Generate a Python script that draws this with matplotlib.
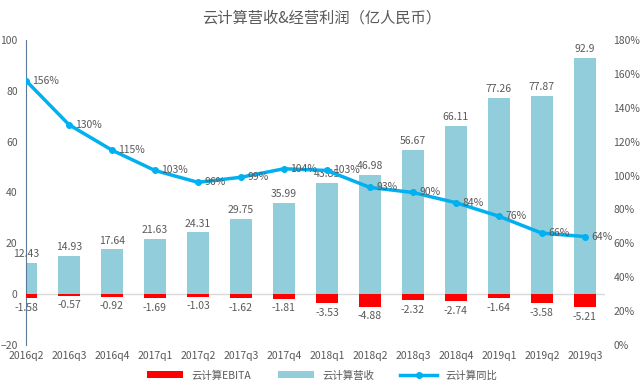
import matplotlib.pyplot as plt
import numpy as np

plt.rcParams['font.family'] = ['Noto Sans CJK SC', 'DejaVu Sans']

quarters = ["2016q2", "2016q3", "2016q4", "2017q1", "2017q2", "2017q3", "2017q4",
            "2018q1", "2018q2", "2018q3", "2018q4", "2019q1", "2019q2", "2019q3"]
revenue = [12.43, 14.93, 17.64, 21.63, 24.31, 29.75, 35.99,
           43.85, 46.98, 56.67, 66.11, 77.26, 77.87, 92.9]
ebita = [-1.58, -0.57, -0.92, -1.69, -1.03, -1.62, -1.81,
         -3.53, -4.88, -2.32, -2.74, -1.64, -3.58, -5.21]
yoy = [156, 130, 115, 103, 96, 99, 104, 103, 93, 90, 84, 76, 66, 64]

txt = '#595959'
x = np.arange(len(quarters))

fig = plt.figure(figsize=(6.44, 3.86), dpi=100)
ax = fig.add_axes([26/644, 1-345/386, (605-26)/644, (345-40)/386])
ax2 = ax.twinx()

# bars sit on top of each other at the same x
ax.bar(x, revenue, width=0.5, color='#92CDDC', label='云计算营收', zorder=2)
ax.bar(x, ebita, width=0.5, color='#FF0000', label='云计算EBITA', zorder=3)
ax.axhline(0, color='#D9D9D9', lw=1, zorder=1)

for i in range(len(x)):
    ax.text(x[i], revenue[i] + 1.5, f"{revenue[i]:g}", ha='center', va='bottom',
            fontsize=7.5, color=txt, zorder=5)
    ax.text(x[i], ebita[i] - 1.8, f"{ebita[i]:g}", ha='center', va='top',
            fontsize=7.5, color=txt, zorder=5)

ax.set_ylim(-20, 100)
ax.set_yticks(range(-20, 101, 20))
ax.set_xlim(0, 13.47)
ax.set_xticks(x)
ax.set_xticklabels(quarters)
ax.tick_params(axis='x', length=0, pad=4, labelsize=7.5, labelcolor=txt)
ax.tick_params(axis='y', length=0, pad=6, labelsize=7.5, labelcolor=txt)
for s in ['top', 'right', 'bottom']:
    ax.spines[s].set_visible(False)
ax.spines['left'].set_color('#5B7A99')

ax2.plot(x, yoy, color='#00B0F0', lw=2.5, marker='o', ms=4, label='云计算同比', zorder=4)
for i in range(len(x)):
    ax2.text(x[i] + 0.15, yoy[i], f"{yoy[i]}%", ha='left', va='center',
             fontsize=7.5, color=txt, zorder=5)
ax2.set_ylim(0, 180)
ax2.set_yticks(range(0, 181, 20))
ax2.set_yticklabels([f"{v}%" for v in range(0, 181, 20)])
ax2.tick_params(axis='y', length=0, pad=6, labelsize=7.5, labelcolor=txt)
for s in ax2.spines.values():
    s.set_visible(False)

fig.suptitle('云计算营收&经营利润（亿人民币）', y=0.975, fontsize=11, color=txt)

h1, l1 = ax.get_legend_handles_labels()
h2, l2 = ax2.get_legend_handles_labels()
order = [1, 0]
fig.legend([h1[i] for i in order] + h2, [l1[i] for i in order] + l2,
           loc='lower center', bbox_to_anchor=(0.5, -0.01), ncol=3, frameon=False,
           fontsize=7.5, labelcolor=txt, handlelength=3.5, columnspacing=2.5)

fig.savefig('out.png', dpi=100)
